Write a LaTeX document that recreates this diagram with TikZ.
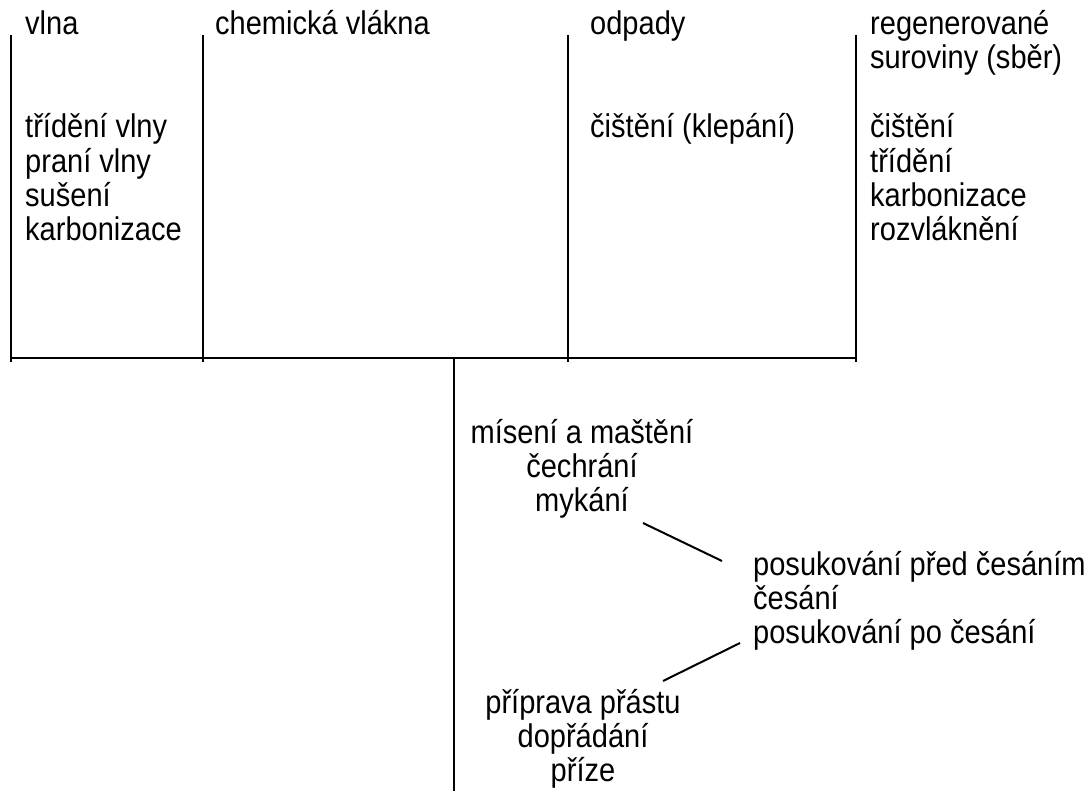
\documentclass[tikz,border=0pt]{standalone}
\usepackage{fontspec}
\setmainfont{Liberation Sans}[FakeStretch=0.885]
\newcommand\stagefont{\fontsize{32.8}{33.7}\selectfont}
\newcommand\leftlines[1]{\begin{tabular}[t]{@{}l@{}}#1\end{tabular}}
\newcommand\midlines[1]{\begin{tabular}[t]{@{}c@{}}#1\end{tabular}}
\begin{document}
\begin{tikzpicture}[x=1pt,y=-1pt,
  rule/.style={line width=2pt},
  link/.style={line width=2pt},
  lbl/.style={inner sep=0pt, anchor=base west, font=\stagefont},
  lblc/.style={inner sep=0pt, anchor=base, font=\stagefont}]
\useasboundingbox (0,0) rectangle (1091,791);

% column dividers of the raw-material table
\coordinate (d1t) at (11,35);   \coordinate (d1b) at (11,362);
\coordinate (d2t) at (203,35);  \coordinate (d2b) at (203,362);
\coordinate (d3t) at (568,35);  \coordinate (d3b) at (568,362);
\coordinate (d4t) at (856,35);  \coordinate (d4b) at (856,362);
\coordinate (hl) at (11,358);   \coordinate (hr) at (856,358);
\coordinate (stemtop) at (454,358); \coordinate (stembot) at (454,791);

\draw[rule] (d1t) -- (d1b);
\draw[rule] (d2t) -- (d2b);
\draw[rule] (d3t) -- (d3b);
\draw[rule] (d4t) -- (d4b);
\draw[rule] (hl) -- (hr);
\draw[rule] (stemtop) -- (stembot);

% raw materials and their preparation
\node[lbl] (vlna) at (25,35) {vlna};
\node[lbl] (chem) at (215,35) {chemická vlákna};
\node[lbl] (odpady) at (590,35) {odpady};
\node[lbl] (regen) at (870,35) {\leftlines{regenerované\\suroviny (sběr)}};

\node[lbl] (vlnaops) at (25,138) {\leftlines{třídění vlny\\praní vlny\\sušení\\karbonizace}};
\node[lbl] (odpops) at (590,138) {čištění (klepání)};
\node[lbl] (regops) at (870,138) {\leftlines{čištění\\třídění\\karbonizace\\rozvláknění}};

% spinning stages
\node[lblc] (prep) at (582,443) {\midlines{mísení a maštění\\čechrání\\mykání}};
\node[lbl] (comb) at (753,575) {\leftlines{posukování před česáním\\česání\\posukování po česání}};
\node[lblc] (spin) at (583,713) {\midlines{příprava přástu\\dopřádání\\příze}};

% links between the stages
\coordinate (l1a) at (643,523); \coordinate (l1b) at (722,561);
\coordinate (l2a) at (663,681); \coordinate (l2b) at (740,643);
\draw[link] (l1a) -- (l1b);
\draw[link] (l2a) -- (l2b);
\end{tikzpicture}
\end{document}
